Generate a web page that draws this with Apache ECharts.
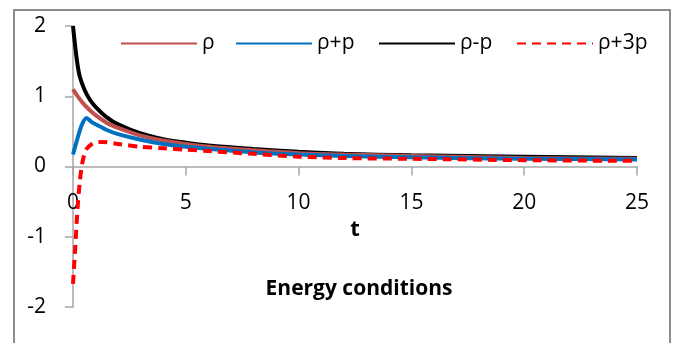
<!DOCTYPE html>
<html>
<head>
<meta charset="utf-8">
<script src="https://cdn.jsdelivr.net/npm/echarts@6/dist/echarts.min.js"></script>
<style>html,body{margin:0;padding:0;background:#fff}#c{width:674px;height:343px}</style>
</head>
<body>
<div id="c"></div>
<script>
var seriesNames = ['ρ', 'ρ+p', 'ρ-p', 'ρ+3p'];
var xTicks = [0, 5, 10, 15, 20, 25];
var yTicks = [-2, -1, 0, 1, 2];

var rhoT   = [0, 0.25, 0.5, 0.75, 1, 1.5, 2, 3, 4, 5, 6, 8, 10, 12, 15, 20, 25];
var rhoV   = [1.1, 0.98, 0.88, 0.8, 0.73, 0.62, 0.55, 0.44, 0.37, 0.32, 0.28, 0.23, 0.19, 0.17, 0.15, 0.12, 0.11];

var rppT   = [0, 0.2, 0.4, 0.6, 0.8, 1, 1.5, 2, 3, 4, 5, 6, 8, 10, 12, 15, 20, 25];
var rppV   = [0.17, 0.4, 0.6, 0.69, 0.64, 0.6, 0.52, 0.46, 0.38, 0.32, 0.28, 0.25, 0.2, 0.17, 0.15, 0.13, 0.11, 0.1];

var rmpT   = [0, 0.1, 0.2, 0.3, 0.5, 0.75, 1, 1.5, 2, 3, 4, 5, 6, 8, 10, 12, 15, 20, 25];
var rmpV   = [2.0, 1.7, 1.45, 1.28, 1.1, 0.95, 0.85, 0.7, 0.6, 0.47, 0.39, 0.34, 0.3, 0.25, 0.21, 0.18, 0.16, 0.14, 0.12];

var r3pT   = [0, 0.1, 0.2, 0.3, 0.4, 0.5, 0.6, 0.8, 1, 1.3, 2, 3, 4, 5, 6, 8, 10, 12, 15, 20, 25];
var r3pV   = [-1.67, -1.15, -0.6, -0.22, 0.03, 0.17, 0.25, 0.31, 0.34, 0.35, 0.32, 0.28, 0.26, 0.24, 0.22, 0.18, 0.14, 0.12, 0.11, 0.09, 0.08];

function pairs(t, v) { return t.map(function (x, i) { return [x, v[i]]; }); }

var font = 'Open Sans';
var legendLefts = [115, 230, 373, 511];
var legends = seriesNames.map(function (n, i) {
  return {
    left: legendLefts[i], top: 28,
    itemWidth: 76, itemHeight: 14,
    itemStyle: { opacity: 0 },
    textStyle: { fontFamily: font, fontSize: 21, color: '#000', padding: [0, 0, 0, 0] },
    data: [n]
  };
});

var chart = echarts.init(document.getElementById('c'));
chart.setOption({
  animation: false,
  backgroundColor: '#fff',
  textStyle: { fontFamily: font },
  title: {
    text: 'Energy conditions',
    left: 354, top: 274, textAlign: 'center',
    textStyle: { fontFamily: font, fontSize: 21, fontWeight: 'bold', color: '#000' }
  },
  graphic: [{
    type: 'rect', shape: { x: 14, y: 10, width: 656, height: 345 },
    style: { fill: 'none', stroke: '#8c8c8c', lineWidth: 2 }, silent: true
  }],
  legend: legends,
  grid: { left: 73, right: 37, top: 26, bottom: 36, containLabel: false, outerBoundsMode: 'none' },
  xAxis: {
    type: 'value', min: xTicks[0], max: xTicks[xTicks.length - 1], interval: 5,
    position: 'bottom', offset: -140.5,
    name: 't', nameLocation: 'middle', nameGap: 42,
    nameTextStyle: { fontFamily: font, fontSize: 22, fontWeight: 'bold', color: '#000' },
    axisLine: { onZero: false, lineStyle: { color: '#a6a6a6', width: 1.5 } },
    axisTick: { show: true, length: 9, lineStyle: { color: '#a6a6a6', width: 1.5 } },
    axisLabel: { margin: 26, fontSize: 21, color: '#000', fontFamily: font },
    splitLine: { show: false }
  },
  yAxis: {
    type: 'value', min: yTicks[0], max: yTicks[yTicks.length - 1], interval: 1,
    axisLine: { show: true, lineStyle: { color: '#a6a6a6', width: 1.5 } },
    axisTick: { show: true, length: 8, lineStyle: { color: '#a6a6a6', width: 1.5 } },
    axisLabel: { margin: 27, fontSize: 21, color: '#000', fontFamily: font },
    splitLine: { show: false }
  },
  series: [
    { name: seriesNames[0], type: 'line', data: pairs(rhoT, rhoV), smooth: 0.3, showSymbol: false, symbol: 'none',
      lineStyle: { color: '#C0504D', width: 4 }, itemStyle: { color: '#C0504D' }, z: 2 },
    { name: seriesNames[1], type: 'line', data: pairs(rppT, rppV), smooth: 0.3, showSymbol: false, symbol: 'none',
      lineStyle: { color: '#0070C0', width: 4 }, itemStyle: { color: '#0070C0' }, z: 3 },
    { name: seriesNames[2], type: 'line', data: pairs(rmpT, rmpV), smooth: 0.3, showSymbol: false, symbol: 'none',
      lineStyle: { color: '#000000', width: 4 }, itemStyle: { color: '#000000' }, z: 1 },
    { name: seriesNames[3], type: 'line', data: pairs(r3pT, r3pV), smooth: 0.3, showSymbol: false, symbol: 'none',
      lineStyle: { color: '#FF0000', width: 4, type: [9, 6] }, itemStyle: { color: '#FF0000' }, z: 4 }
  ]
});
</script>
</body>
</html>
